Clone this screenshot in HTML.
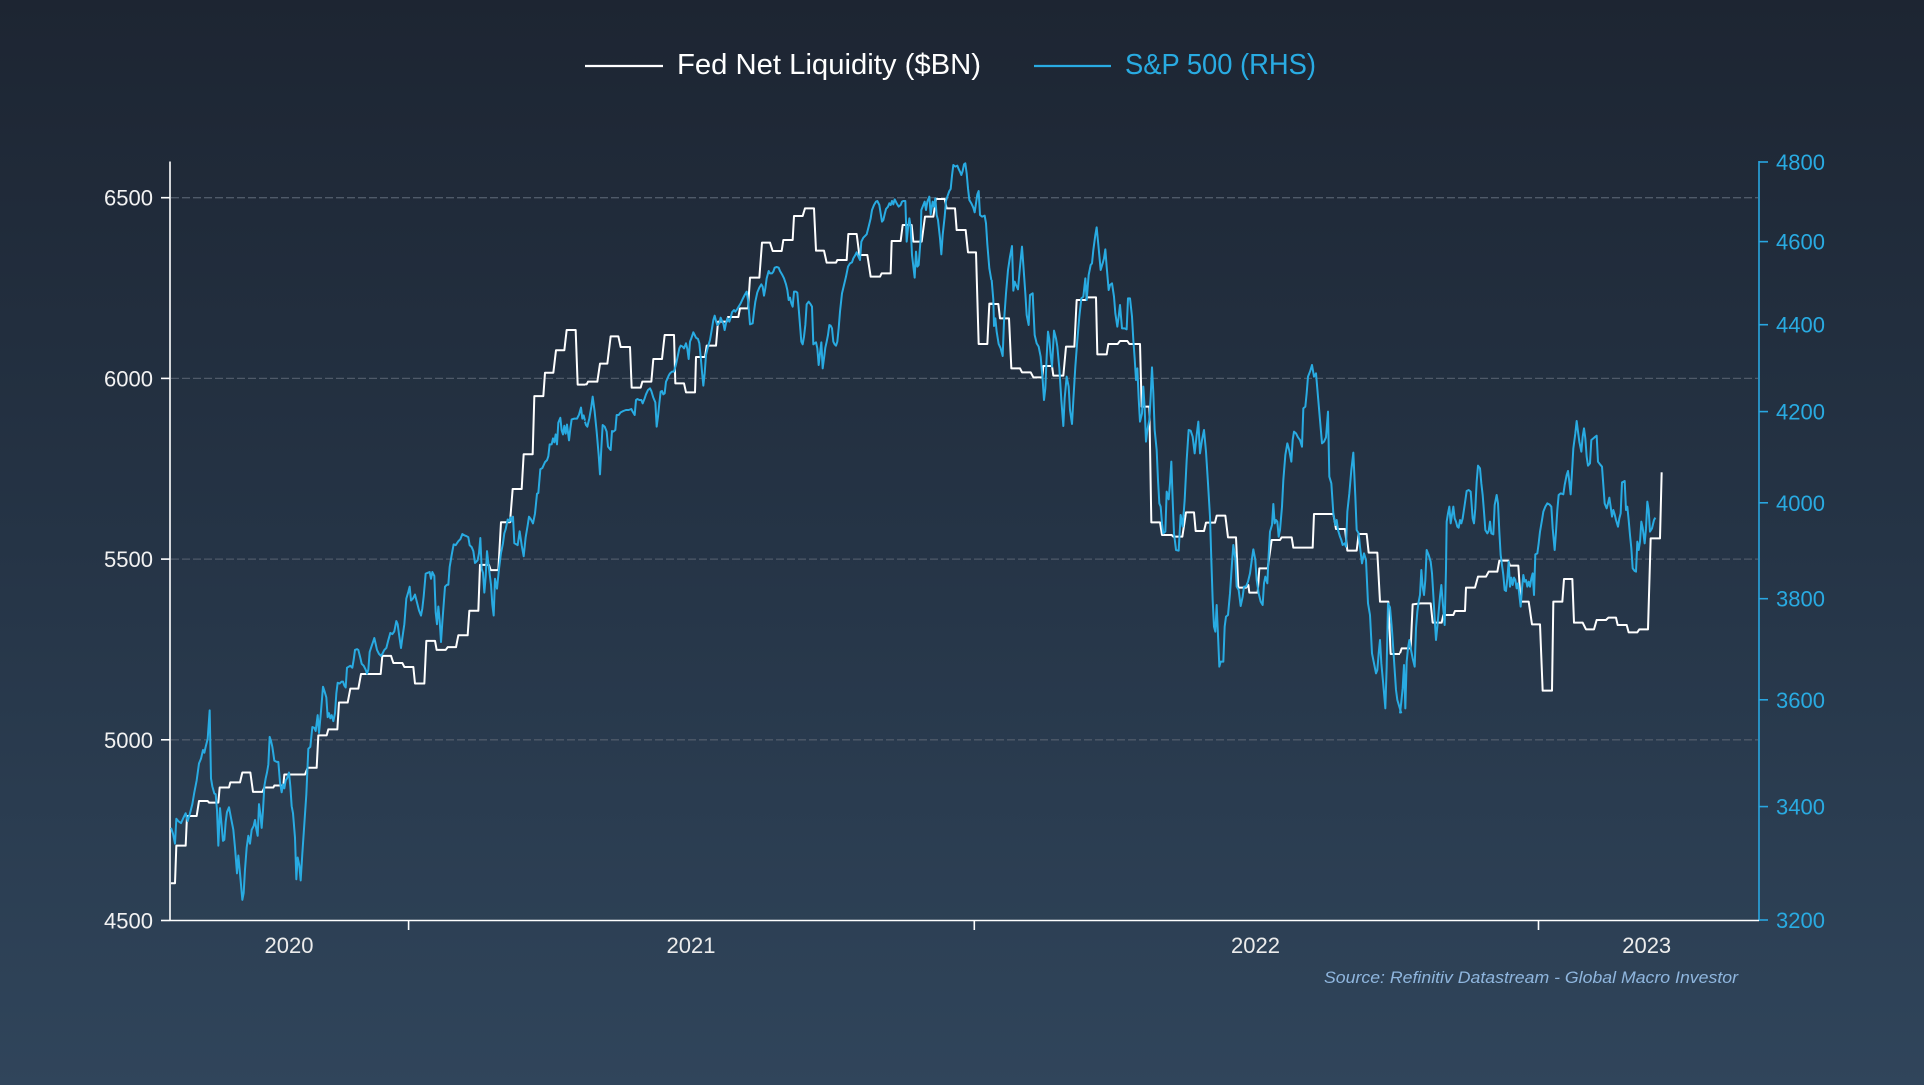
<!DOCTYPE html>
<html>
<head>
<meta charset="utf-8">
<style>
  html, body { margin: 0; padding: 0; width: 1924px; height: 1085px; overflow: hidden; }
  svg { display: block; }
  .lbl { font-family: "Liberation Sans", Arial, sans-serif; font-size: 22px; }
</style>
</head>
<body>
<svg width="1924" height="1085" viewBox="0 0 1924 1085" xmlns="http://www.w3.org/2000/svg">
  <defs>
    <linearGradient id="bg" x1="0" y1="0" x2="0" y2="1">
      <stop offset="0" stop-color="#1d2532"/>
      <stop offset="0.5" stop-color="#253446"/>
      <stop offset="1" stop-color="#30455b"/>
    </linearGradient>
  </defs>
  <rect x="0" y="0" width="1924" height="1085" fill="url(#bg)"/>

  <!-- Legend -->
  <line x1="585" y1="66" x2="663" y2="66" stroke="#ffffff" stroke-width="2.2"/>
  <text x="677" y="74" font-family="Liberation Sans, Arial, sans-serif" font-size="29" fill="#ffffff" textLength="304" lengthAdjust="spacingAndGlyphs">Fed Net Liquidity ($BN)</text>
  <line x1="1034" y1="66" x2="1111" y2="66" stroke="#29abe2" stroke-width="2.2"/>
  <text x="1125" y="74" font-family="Liberation Sans, Arial, sans-serif" font-size="29" fill="#29abe2" textLength="191" lengthAdjust="spacingAndGlyphs">S&amp;P 500 (RHS)</text>

  <!-- Gridlines -->
  <g stroke="#4f5a69" stroke-width="1.3" stroke-dasharray="8,3">
    <line x1="171" y1="197.7" x2="1758" y2="197.7"/>
    <line x1="171" y1="378.4" x2="1758" y2="378.4"/>
    <line x1="171" y1="559.1" x2="1758" y2="559.1"/>
    <line x1="171" y1="739.8" x2="1758" y2="739.8"/>
  </g>

  <!-- Left axis -->
  <line x1="170" y1="161.5" x2="170" y2="921" stroke="#ffffff" stroke-width="1.6"/>
  <g stroke="#ffffff" stroke-width="1.6">
    <line x1="161" y1="197.7" x2="170" y2="197.7"/>
    <line x1="161" y1="378.4" x2="170" y2="378.4"/>
    <line x1="161" y1="559.1" x2="170" y2="559.1"/>
    <line x1="161" y1="739.8" x2="170" y2="739.8"/>
    <line x1="161" y1="920.5" x2="170" y2="920.5"/>
  </g>
  <g class="lbl" fill="#f2f2f2" text-anchor="end">
    <text x="153" y="205.7">6500</text>
    <text x="153" y="386.4">6000</text>
    <text x="153" y="567.1">5500</text>
    <text x="153" y="747.8">5000</text>
    <text x="153" y="928.5">4500</text>
  </g>

  <!-- Right axis (log) -->
  <line x1="1759" y1="161" x2="1759" y2="921" stroke="#29a6e0" stroke-width="1.6"/>
  <g stroke="#29a6e0" stroke-width="1.6">
    <line x1="1759" y1="162" x2="1768" y2="162"/>
    <line x1="1759" y1="241.6" x2="1768" y2="241.6"/>
    <line x1="1759" y1="324.7" x2="1768" y2="324.7"/>
    <line x1="1759" y1="411.6" x2="1768" y2="411.6"/>
    <line x1="1759" y1="502.8" x2="1768" y2="502.8"/>
    <line x1="1759" y1="598.7" x2="1768" y2="598.7"/>
    <line x1="1759" y1="699.8" x2="1768" y2="699.8"/>
    <line x1="1759" y1="806.6" x2="1768" y2="806.6"/>
    <line x1="1759" y1="920" x2="1768" y2="920"/>
  </g>
  <g class="lbl" fill="#29abe2">
    <text x="1776" y="170">4800</text>
    <text x="1776" y="249.6">4600</text>
    <text x="1776" y="332.7">4400</text>
    <text x="1776" y="419.6">4200</text>
    <text x="1776" y="510.8">4000</text>
    <text x="1776" y="606.7">3800</text>
    <text x="1776" y="707.8">3600</text>
    <text x="1776" y="814.6">3400</text>
    <text x="1776" y="928">3200</text>
  </g>

  <!-- X axis -->
  <line x1="170" y1="920.5" x2="1759" y2="920.5" stroke="#ffffff" stroke-width="1.6"/>
  <g stroke="#ffffff" stroke-width="1.6">
    <line x1="408.6" y1="920.5" x2="408.6" y2="930"/>
    <line x1="974.3" y1="920.5" x2="974.3" y2="930"/>
    <line x1="1538.5" y1="920.5" x2="1538.5" y2="930"/>
  </g>
  <g class="lbl" fill="#ececec" text-anchor="middle">
    <text x="289" y="953">2020</text>
    <text x="691" y="953">2021</text>
    <text x="1255.5" y="953">2022</text>
    <text x="1646.7" y="953">2023</text>
  </g>

  <!-- Source -->
  <text x="1324" y="983" font-family="Liberation Sans, Arial, sans-serif" font-size="17" font-style="italic" fill="#8fb6de" textLength="414" lengthAdjust="spacingAndGlyphs">Source: Refinitiv Datastream - Global Macro Investor</text>

  <!-- WHITE SERIES -->
  <g fill="none" stroke="#ffffff" stroke-width="2" stroke-linejoin="round">
    <g transform="translate(165,300) scale(0.333333,0.395408)">
      <polyline vector-effect="non-scaling-stroke" points="18,1475 30,1475 34,1380 62,1380 66,1305 95,1305 102,1267 128,1267 132,1271 160,1271 164,1233 192,1233 196,1220 225,1220 232,1195 256,1195 264,1244 292,1244 298,1233 325,1233 328,1228 355,1228 358,1200 420,1200 428,1183 455,1183 460,1101 485,1101 490,1086 517,1086 522,1018 548,1018 556,983 580,983 588,946 647,946 652,900 678,900 685,918 712,918 718,928 745,928 750,970 778,970 784,862 810,862 815,885 842,885 848,878 873,878 880,848 908,848 913,786 940,786 945,670 972,670 977,683 1000,683 1008,562 1035,562 1043,478 1070,478 1076,390 1103,390 1108,243 1135,243 1140,184 1165,184 1173,127 1198,127 1205,76 1232,76 1238,214 1260,214"/>
    </g>
    <g transform="translate(580,155) scale(0.333333)">
      <polyline vector-effect="non-scaling-stroke" points="15,688 20,688 24,680 52,680 60,626 82,626 92,544 115,544 122,576 150,576 155,698 182,698 187,680 214,680 220,612 246,612 254,540 282,540 286,685 312,685 318,712 345,712 348,606 375,606 380,572 408,572 414,500 440,500 444,486 475,486 480,460 504,460 510,368 538,368 546,263 570,263 578,288 605,288 610,255 638,255 642,183 668,183 675,160 702,160 708,287 732,287 740,323 768,323 772,315 800,315 805,237 830,237 838,300 862,300 872,365 900,365 905,355 932,355 935,258 962,258 968,210 995,210 1000,260 1025,260 1035,185 1060,185 1068,132 1094,132 1100,160 1125,160 1130,225 1157,225 1164,292 1188,292 1196,567 1222,567 1228,446 1240,446"/>
    </g>
    <g transform="translate(990,200) scale(0.333333)">
      <polyline vector-effect="non-scaling-stroke" points="0,312 25,312 30,355 57,355 64,505 90,505 96,517 122,517 130,532 157,532 160,498 186,498 190,527 220,527 228,440 253,440 260,300 288,300 290,292 318,292 322,463 350,463 355,432 383,432 390,423 412,423 418,432 450,432 455,620 478,620 484,967 510,967 516,1005 545,1005 550,1010 577,1010 588,937 612,937 617,993 642,993 648,968 675,968 680,947 706,947 714,1012 738,1012 745,1163 768,1163 775,1155 778,1178 803,1178 808,1105 833,1105 845,1020 870,1020 875,1012 905,1012 910,1043 968,1043 972,942 1030,942 1038,987 1065,987 1072,1052 1100,1052 1106,1002 1130,1002 1136,1058 1162,1058 1170,1205 1195,1205 1202,1362 1230,1362"/>
    </g>
    <g transform="translate(1400,395) scale(0.333333)">
      <polyline vector-effect="non-scaling-stroke" points="0,775 5,760 32,760 38,628 62,625 92,625 98,683 125,683 130,660 160,660 165,648 195,648 198,578 225,578 234,545 258,545 266,530 292,530 298,497 325,497 330,512 355,512 362,620 386,620 396,688 420,688 428,887 456,887 460,620 487,620 492,552 517,552 522,683 548,683 558,703 582,703 590,675 618,675 625,668 648,668 653,690 680,690 686,712 712,712 718,703 744,703 752,430 780,430 785,232"/>
    </g>
  </g>

  <!-- BLUE SERIES -->
  <g fill="none" stroke="#29abe2" stroke-width="2" stroke-linejoin="round">
    <g transform="translate(165,300) scale(0.333333,0.395408)">
      <polyline vector-effect="non-scaling-stroke" points="18,1335 24,1350 30,1375 34,1312 40,1318 48,1323 55,1310 62,1298 68,1318 75,1298 82,1275 88,1245 95,1215 102,1172 108,1160 114,1138 118,1145 122,1130 128,1110 134,1038 138,1210 142,1230 148,1248 152,1250 156,1290 160,1380 165,1285 170,1330 174,1368 178,1365 182,1320 186,1295 192,1283 198,1310 205,1340 210,1385 216,1450 220,1405 225,1450 232,1517 236,1500 240,1440 245,1385 250,1355 255,1375 260,1340 266,1330 270,1315 274,1338 278,1355 282,1275 286,1300 290,1335 294,1290 298,1230 302,1210 306,1195 310,1175 314,1105 318,1115 322,1130 328,1165 335,1168 340,1168 345,1220 350,1245 354,1225 358,1235 362,1215 366,1210 372,1195 376,1230 380,1280 384,1298 390,1360 394,1465 398,1410 403,1430 407,1468 412,1400 418,1325 424,1250 430,1135 436,1130 442,1080 448,1082 452,1090 458,1050 462,1095 468,1040 474,978 478,988 484,1005 488,1055 492,1045 496,1058 500,1050 505,1065 510,1045 514,995 518,968 524,970 530,965 534,965 538,975 542,980 546,930 550,928 556,925 562,930 566,910 570,885 576,883 580,885 586,905 590,920 596,925 602,935 606,945 610,935 614,890 620,875 624,865 628,855 632,870 636,885 642,895 648,900 652,895 658,885 664,880 670,860 676,842 682,845 688,838 694,812 698,820 702,845 708,880 712,855 718,820 724,755 730,738 734,725 738,760 744,755 750,745 756,765 762,785 768,798 772,780 776,750 782,692 788,690 794,688 798,705 802,688 808,698 812,790 816,820 820,775 824,810 828,865 832,815 836,770 840,725 846,720 850,720 854,675 860,645 866,618 872,620 880,610 886,605 892,592 898,595 904,597 910,600 914,620 920,625 925,635 930,665 934,662 938,658 942,640 946,602 950,680 954,690 958,740 962,700 966,635 970,665 975,700 978,720 982,770 986,798 990,705 996,730 1002,680 1008,640 1014,615 1018,590 1022,580 1028,555 1032,560 1036,550 1040,560 1044,548 1048,615 1054,618 1058,620 1064,585 1070,620 1076,648 1082,600 1088,570 1092,548 1098,555 1104,565 1110,540 1116,490 1120,488 1126,428 1132,425 1140,410 1146,405 1150,395 1154,365 1160,365 1164,350 1168,360 1172,340 1176,365 1180,310 1186,298 1190,330 1194,340 1198,318 1202,338 1206,315 1212,355 1216,325 1220,302 1228,300 1236,300 1242,290 1248,272 1252,300 1256,292 1260,305"/>
    </g>
    <g transform="translate(580,155) scale(0.333333)">
      <polyline vector-effect="non-scaling-stroke" points="15,800 18,810 22,815 28,790 34,755 38,725 44,770 50,830 56,900 60,958 64,880 68,810 74,815 80,830 84,875 88,880 92,885 96,828 100,830 106,825 110,780 116,780 122,772 130,768 138,765 146,765 154,762 158,770 164,780 168,735 172,732 178,735 184,735 188,745 194,730 198,718 204,705 210,700 214,708 220,728 226,742 230,815 234,785 238,745 242,710 246,708 250,718 254,715 258,680 262,672 266,662 270,655 276,650 282,650 288,628 294,600 298,580 302,572 308,575 312,580 318,565 322,582 326,612 330,560 334,550 340,532 344,540 348,548 354,552 358,565 362,605 366,650 370,692 374,655 378,600 384,575 390,555 396,520 400,495 404,482 408,498 412,510 418,505 422,488 426,498 430,505 434,525 438,505 442,490 448,500 452,488 456,472 462,465 466,470 472,462 476,455 482,445 488,432 494,420 500,410 504,435 510,508 518,505 522,470 526,440 532,412 538,398 544,388 548,395 552,422 556,400 560,370 566,348 570,355 576,355 580,350 584,338 590,336 596,338 600,348 606,358 612,370 618,388 622,405 626,435 630,428 634,445 638,455 642,410 648,410 652,413 656,460 660,510 664,560 668,568 672,545 676,510 680,448 686,440 692,448 696,455 700,568 704,565 708,562 712,580 716,630 720,595 724,562 728,640 732,610 736,578 740,560 744,540 748,510 752,512 756,520 760,560 764,568 768,572 772,560 776,520 780,470 786,415 792,390 798,365 804,335 810,325 816,322 820,310 826,300 830,292 834,302 840,315 844,260 850,248 856,242 860,238 866,215 872,190 876,165 882,150 888,140 892,138 898,150 902,175 906,200 910,195 914,178 918,162 924,155 928,145 932,150 936,138 940,148 944,133 950,145 956,155 962,150 966,140 970,138 976,138 980,260 984,220 988,190 992,215 996,300 1004,368 1008,290 1012,335 1016,330 1022,250 1024,165 1030,150 1034,140 1038,165 1042,140 1048,125 1052,178 1058,140 1062,155 1066,130 1070,180 1074,195 1080,250 1084,298 1088,240 1094,185 1098,138 1102,125 1108,108 1112,102 1116,62 1120,30 1126,35 1132,32 1136,42 1140,50 1144,60 1148,48 1152,28 1156,25 1160,55 1164,100 1168,135 1174,145 1180,158 1184,172 1188,145 1192,118 1196,108 1200,180 1206,185 1214,182 1218,205 1222,268 1228,340 1234,375"/>
    </g>
    <g transform="translate(990,200) scale(0.333333)">
      <polyline vector-effect="non-scaling-stroke" points="5,240 10,300 12,378 16,355 20,395 26,432 32,445 38,468 42,365 48,280 54,210 60,170 66,138 70,272 74,245 78,255 84,268 90,200 96,140 100,195 106,280 110,345 116,375 120,285 128,280 134,405 140,430 146,440 152,470 158,540 162,600 166,565 170,470 174,395 178,418 182,465 186,500 192,392 198,415 202,440 208,505 214,600 220,678 224,595 230,530 236,560 240,630 246,672 250,600 256,500 262,420 268,350 274,295 280,290 286,235 290,300 296,225 302,195 306,190 310,150 316,105 320,82 326,145 332,210 338,190 342,175 346,148 350,200 356,270 360,255 366,250 372,290 376,340 382,380 386,350 390,315 396,385 404,385 410,388 414,295 420,295 426,350 430,420 434,475 438,540 442,505 446,595 450,665 456,640 460,560 464,625 468,725 472,690 478,660 482,590 486,502 490,580 494,690 500,750 504,840 508,910 512,920 516,970 520,1000 526,995 530,875 536,898 540,850 544,785 548,900 552,1000 558,1050 566,1052 572,945 578,980 584,900 590,780 596,690 602,692 608,710 614,760 620,705 625,665 630,760 636,720 642,690 648,755 654,850 660,950 664,1080 668,1200 672,1280 676,1295 680,1215 684,1305 688,1400 692,1385 700,1385 704,1280 708,1250 714,1245 720,1180 726,1090 730,1035 736,1075 740,1160 746,1170 752,1218 758,1190 762,1160 768,1160 774,1145 780,1120 786,1075 790,1048 796,1080 800,1140 806,1180 812,1205 818,1215 822,1150 826,1130 832,1150 836,1065 840,995 846,975 850,912 854,970 858,960 862,965 866,1010 870,990 876,920 880,840 886,765 892,730 898,752 904,785 908,720 912,695 918,700 924,712 930,720 936,740 940,625 946,620 950,580 954,530 960,515 966,495 972,530 978,520 984,590 990,660 996,730 1002,725 1008,712 1014,635 1018,830 1024,850 1030,940 1036,975 1040,960 1044,990 1050,1010 1054,1020 1058,1035 1064,1030 1068,1040 1072,935 1078,880 1084,810 1090,758 1096,890 1100,990 1106,1000 1110,1040 1116,1090 1122,1060 1128,1080 1134,1210 1140,1245 1146,1360 1152,1390 1158,1420 1162,1410 1166,1360 1170,1320 1174,1390 1180,1455 1186,1525 1190,1400 1194,1210 1200,1222 1206,1290 1212,1380 1218,1470 1222,1500 1228,1520 1234,1540"/>
    </g>
    <g transform="translate(1400,395) scale(0.333333)">
      <polyline vector-effect="non-scaling-stroke" points="0,955 4,920 8,880 12,810 16,940 20,800 24,760 28,735 32,760 38,790 44,815 48,700 52,650 56,620 60,600 64,525 68,575 72,600 76,555 80,465 86,480 92,500 96,535 100,600 104,670 108,735 112,695 116,650 120,605 124,570 128,620 134,690 138,520 140,380 144,355 148,335 152,385 156,360 160,335 164,370 168,380 172,395 176,398 180,375 184,385 188,370 194,330 200,288 206,285 212,290 218,370 222,385 226,340 230,260 234,212 240,220 244,265 248,300 252,350 256,405 262,415 266,408 270,380 274,415 280,418 284,330 290,300 294,325 298,410 302,480 306,510 310,540 314,585 318,588 322,550 326,500 330,575 334,548 338,570 342,548 346,555 350,580 354,565 358,600 362,635 366,580 370,540 374,560 378,555 382,575 386,560 390,575 394,550 398,535 402,600 406,478 412,475 416,445 420,410 426,375 430,350 436,335 442,325 448,328 454,335 458,400 464,465 468,410 472,345 476,300 482,295 490,298 494,270 500,240 504,228 508,260 512,298 516,230 520,160 526,115 530,78 534,110 538,140 544,170 548,125 552,100 556,130 560,185 564,212 570,205 574,135 580,130 586,125 590,122 594,200 600,208 606,215 610,270 614,325 620,340 624,325 628,308 632,335 636,365 640,345 644,358 648,375 654,395 658,370 662,355 666,262 674,258 678,345 682,335 686,375 690,420 694,460 698,520 704,528 708,530 712,440 716,465 720,440 724,380 728,398 734,445 738,400 742,320 746,345 750,410 756,400 762,375 766,368"/>
    </g>
  </g>
</svg>
</body>
</html>
